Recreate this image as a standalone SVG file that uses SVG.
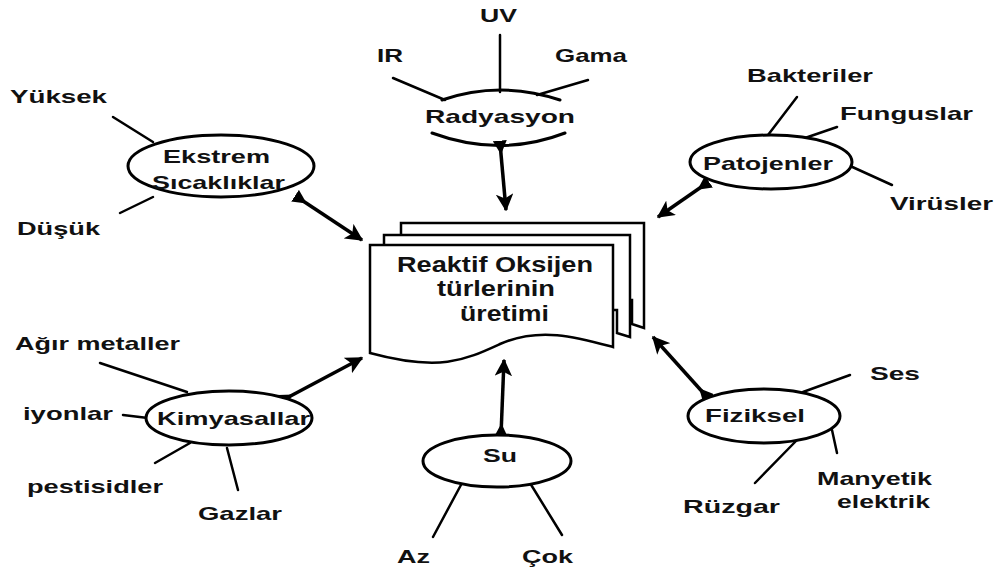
<svg xmlns="http://www.w3.org/2000/svg" width="1002" height="574" viewBox="0 0 1002 574">
<defs>
<style>
text{font-family:"Liberation Sans",Arial,sans-serif;font-weight:bold;font-size:19px;fill:#111;}
.big{font-size:22px;}
.ell{fill:#fff;stroke:#000;stroke-width:3;}
.ln{stroke:#000;stroke-width:2.5;fill:none;stroke-linecap:round;}
.arr{stroke:#000;stroke-width:3.5;fill:none;marker-end:url(#ah);marker-start:url(#tl);}
.pg{fill:#fff;stroke:#000;stroke-width:2.5;stroke-linejoin:miter;}
</style>
<marker id="ah" viewBox="0 0 12 12" refX="11" refY="6" markerWidth="5" markerHeight="5" orient="auto" markerUnits="strokeWidth">
<path d="M0,0 L12,6 L0,12 L3,6 Z" fill="#000"/>
</marker>
<marker id="tl" viewBox="0 0 12 12" refX="2" refY="6" markerWidth="4" markerHeight="4" orient="auto" markerUnits="strokeWidth">
<path d="M0,0 L12,6 L0,12 Z" fill="#000"/>
</marker>
</defs>
<rect width="1002" height="574" fill="#fff"/>

<g id="connectors">
<line class="ln" x1="500" y1="35" x2="500" y2="92"/>
<line class="ln" x1="393" y1="78" x2="445" y2="100"/>
<line class="ln" x1="588" y1="80" x2="537" y2="95"/>
<line class="ln" x1="113" y1="117" x2="153" y2="142"/>
<line class="ln" x1="120" y1="213" x2="153" y2="197"/>
<line class="ln" x1="797" y1="97" x2="768" y2="135"/>
<line class="ln" x1="837" y1="127" x2="805" y2="138"/>
<line class="ln" x1="892" y1="185" x2="848" y2="165"/>
<line class="ln" x1="100" y1="363" x2="187" y2="392"/>
<line class="ln" x1="123" y1="415" x2="148" y2="418"/>
<line class="ln" x1="155" y1="463" x2="190" y2="443"/>
<line class="ln" x1="227" y1="448" x2="238" y2="490"/>
<line class="ln" x1="462" y1="483" x2="433" y2="537"/>
<line class="ln" x1="530" y1="483" x2="562" y2="535"/>
<line class="ln" x1="803" y1="392" x2="850" y2="375"/>
<line class="ln" x1="797" y1="440" x2="755" y2="483"/>
<line class="ln" x1="832" y1="430" x2="837" y2="453"/>
<line class="arr" x1="297" y1="197" x2="362" y2="240"/>
<line class="arr" x1="500" y1="143" x2="506" y2="210"/>
<line class="arr" x1="707" y1="183" x2="658" y2="217"/>
<line class="arr" x1="283" y1="400" x2="362" y2="358"/>
<line class="arr" x1="501" y1="435" x2="504" y2="360"/>
<line class="arr" x1="707" y1="397" x2="653" y2="337"/>
</g>

<g id="doc">
<path class="pg" d="M401,235 V223 H644 V328 L632,324 V300 H401 Z"/>
<path class="pg" d="M384,245 V235 H630 V337 L617,333 V310 H384 Z"/>
<path class="pg" d="M370,245 H613 V333 L613,347 C580,338 540,326 500,344 C465,360 440,372 370,353 Z"/>
<text class="big" x="397" y="272" textLength="196" lengthAdjust="spacingAndGlyphs">Reaktif Oksijen</text>
<text class="big" x="437" y="296" textLength="118" lengthAdjust="spacingAndGlyphs">türlerinin</text>
<text class="big" x="460" y="321" textLength="89" lengthAdjust="spacingAndGlyphs">üretimi</text>
</g>

<g id="radyasyon">
<path class="ln" style="stroke-width:3" d="M442,100 Q500,80 560,100"/>
<path class="ln" style="stroke-width:3" d="M432,133 Q500,158 565,133"/>
<text x="425" y="123" textLength="150" lengthAdjust="spacingAndGlyphs">Radyasyon</text>
</g>
<g id="uv"><text x="480" y="22" textLength="37" lengthAdjust="spacingAndGlyphs">UV</text></g>
<g id="ir"><text x="377" y="62" textLength="26" lengthAdjust="spacingAndGlyphs">IR</text></g>
<g id="gama"><text x="555" y="62" textLength="72" lengthAdjust="spacingAndGlyphs">Gama</text></g>

<g id="ekstrem">
<ellipse class="ell" cx="221" cy="166" rx="93" ry="31"/>
<text x="163" y="163" textLength="107" lengthAdjust="spacingAndGlyphs">Ekstrem</text>
<text x="152" y="189" textLength="133" lengthAdjust="spacingAndGlyphs">Sıcaklıklar</text>
</g>
<g id="yuksek"><text x="10" y="103" textLength="97" lengthAdjust="spacingAndGlyphs">Yüksek</text></g>
<g id="dusuk"><text x="17" y="235" textLength="83" lengthAdjust="spacingAndGlyphs">Düşük</text></g>

<g id="patojenler">
<ellipse class="ell" cx="771" cy="162" rx="81" ry="27"/>
<text x="703" y="170" textLength="130" lengthAdjust="spacingAndGlyphs">Patojenler</text>
</g>
<g id="bakteriler"><text x="747" y="82" textLength="126" lengthAdjust="spacingAndGlyphs">Bakteriler</text></g>
<g id="funguslar"><text x="840" y="120" textLength="133" lengthAdjust="spacingAndGlyphs">Funguslar</text></g>
<g id="virusler"><text x="890" y="210" textLength="103" lengthAdjust="spacingAndGlyphs">Virüsler</text></g>

<g id="kimyasallar">
<ellipse class="ell" cx="229" cy="418" rx="83" ry="27"/>
<text x="157" y="425" textLength="153" lengthAdjust="spacingAndGlyphs">Kimyasallar</text>
</g>
<g id="agir"><text x="15" y="350" textLength="165" lengthAdjust="spacingAndGlyphs">Ağır metaller</text></g>
<g id="iyonlar"><text x="23" y="420" textLength="90" lengthAdjust="spacingAndGlyphs">iyonlar</text></g>
<g id="pestisidler"><text x="27" y="493" textLength="136" lengthAdjust="spacingAndGlyphs">pestisidler</text></g>
<g id="gazlar"><text x="198" y="520" textLength="84" lengthAdjust="spacingAndGlyphs">Gazlar</text></g>

<g id="su">
<ellipse class="ell" cx="497" cy="461" rx="74" ry="26"/>
<text x="483" y="462" textLength="34" lengthAdjust="spacingAndGlyphs">Su</text>
</g>
<g id="az"><text x="397" y="563" textLength="33" lengthAdjust="spacingAndGlyphs">Az</text></g>
<g id="cok"><text x="522" y="563" textLength="51" lengthAdjust="spacingAndGlyphs">Çok</text></g>

<g id="fiziksel">
<ellipse class="ell" cx="764" cy="416" rx="76" ry="27"/>
<text x="705" y="422" textLength="100" lengthAdjust="spacingAndGlyphs">Fiziksel</text>
</g>
<g id="ses"><text x="870" y="380" textLength="50" lengthAdjust="spacingAndGlyphs">Ses</text></g>
<g id="manyetik">
<text x="817" y="485" textLength="115" lengthAdjust="spacingAndGlyphs">Manyetik</text>
<text x="837" y="508" textLength="93" lengthAdjust="spacingAndGlyphs">elektrik</text>
</g>
<g id="ruzgar"><text x="683" y="513" textLength="97" lengthAdjust="spacingAndGlyphs">Rüzgar</text></g>
</svg>
